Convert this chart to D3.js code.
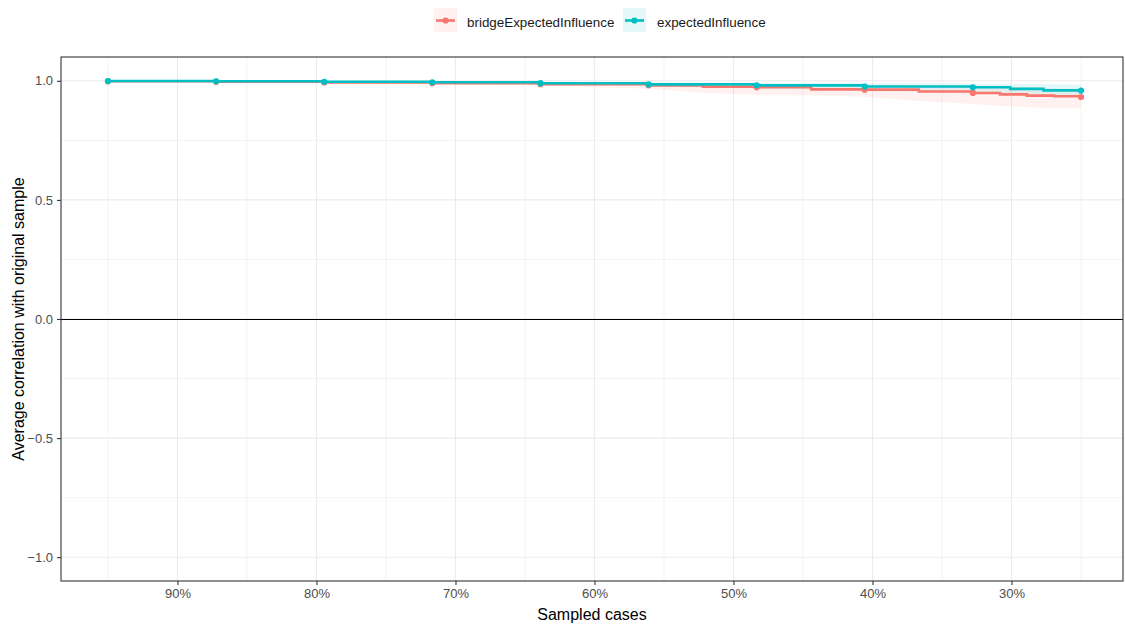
<!DOCTYPE html>
<html><head><meta charset="utf-8">
<script src="https://cdn.jsdelivr.net/npm/d3@7"></script>
<style>body{margin:0;background:#fff;} text{font-family:"Liberation Sans",Arial,sans-serif;}</style>
</head><body><svg id="c" width="1125" height="626"></svg>
<script>
const seriesNames = ["bridgeExpectedInfluence", "expectedInfluence"];
const seriesColors = ["#F8766D", "#00BFC4"];

const pointX = [95, 87.22, 79.44, 71.67, 63.89, 56.11, 48.33, 40.56, 32.78, 25];
const bridgePoints   = [0.998, 0.996, 0.993, 0.990, 0.986, 0.981, 0.973, 0.963, 0.949, 0.932];
const expectedPoints = [0.999, 0.998, 0.996, 0.994, 0.990, 0.985, 0.981, 0.976, 0.973, 0.959];

const bridgeLineX = [95, 87.22, 79.44, 71.67, 63.89, 56.11, 52.2, 48.33, 44.4, 40.56, 36.67, 32.78, 30.83, 28.89, 26.94, 25];
const bridgeLineY = [0.998, 0.996, 0.993, 0.990, 0.986, 0.981, 0.975, 0.973, 0.964, 0.963, 0.955, 0.949, 0.943, 0.938, 0.935, 0.932];
const expectedLineX = [95, 87.22, 79.44, 71.67, 63.89, 56.11, 48.33, 40.56, 32.78, 30.1, 27.7, 25];
const expectedLineY = [0.999, 0.998, 0.996, 0.994, 0.990, 0.985, 0.981, 0.976, 0.973, 0.966, 0.960, 0.959];

const ribbonX = [95, 87.22, 79.44, 71.67, 63.89, 56.11, 52.2, 48.33, 44.4, 40.56, 36.67, 32.78, 30.83, 28.89, 26.94, 25];
const bridgeLower   = [0.996, 0.994, 0.990, 0.986, 0.980, 0.967, 0.950, 0.942, 0.938, 0.933, 0.915, 0.903, 0.894, 0.889, 0.887, 0.886];
const bridgeUpper   = [1.000, 0.999, 0.997, 0.995, 0.992, 0.990, 0.988, 0.986, 0.985, 0.983, 0.980, 0.977, 0.975, 0.972, 0.969, 0.966];
const expectedLower = [0.997, 0.995, 0.992, 0.988, 0.983, 0.977, 0.972, 0.968, 0.964, 0.960, 0.955, 0.950, 0.946, 0.942, 0.938, 0.935];
const expectedUpper = [1.000, 1.000, 0.999, 0.998, 0.996, 0.994, 0.993, 0.992, 0.991, 0.990, 0.990, 0.989, 0.988, 0.987, 0.986, 0.985];

const xTicks = [90, 80, 70, 60, 50, 40, 30];
const xMinor = [95, 85, 75, 65, 55, 45, 35, 25];
const yTicks = [-1, -0.5, 0, 0.5, 1];
const yMinor = [-0.75, -0.25, 0.25, 0.75];
const xTitle = "Sampled cases";
const yTitle = "Average correlation with original sample";

const svg = d3.select("#c");
const P = {l: 61, r: 1123, t: 57, b: 581};
const x = d3.scaleLinear().domain([98.38, 21.98]).range([P.l, P.r]);
const y = d3.scaleLinear().domain([-1.1, 1.1]).range([P.b, P.t]);

const g = svg.append("g");
// grid
g.selectAll(".ymin").data(yMinor).enter().append("line")
  .attr("x1", P.l).attr("x2", P.r).attr("y1", d => y(d)).attr("y2", d => y(d))
  .attr("stroke", "#EBEBEB").attr("stroke-width", 0.6);
g.selectAll(".xmin").data(xMinor).enter().append("line")
  .attr("y1", P.t).attr("y2", P.b).attr("x1", d => x(d)).attr("x2", d => x(d))
  .attr("stroke", "#EBEBEB").attr("stroke-width", 0.6);
g.selectAll(".ymaj").data(yTicks).enter().append("line")
  .attr("x1", P.l).attr("x2", P.r).attr("y1", d => y(d)).attr("y2", d => y(d))
  .attr("stroke", "#EBEBEB").attr("stroke-width", 1.1);
g.selectAll(".xmaj").data(xTicks).enter().append("line")
  .attr("y1", P.t).attr("y2", P.b).attr("x1", d => x(d)).attr("x2", d => x(d))
  .attr("stroke", "#EBEBEB").attr("stroke-width", 1.1);

// zero line
g.append("line").attr("x1", P.l).attr("x2", P.r).attr("y1", Math.round(y(0)) + 0.5).attr("y2", Math.round(y(0)) + 0.5)
  .attr("stroke", "#000").attr("stroke-width", 1);

// ribbons
const area = d3.area().x(d => x(d[0])).y0(d => y(d[1])).y1(d => y(d[2]));
const ribbons = [
  ribbonX.map((v, i) => [v, bridgeLower[i], bridgeUpper[i]]),
  ribbonX.map((v, i) => [v, expectedLower[i], expectedUpper[i]])
];
ribbons.forEach((r, i) => {
  g.append("path").attr("d", area(r)).attr("fill", seriesColors[i]).attr("fill-opacity", 0.1);
});

// lines
const line = d3.line().x(d => x(d[0])).y(d => y(d[1])).curve(d3.curveStepAfter);
const lines = [
  bridgeLineX.map((v, i) => [v, bridgeLineY[i]]),
  expectedLineX.map((v, i) => [v, expectedLineY[i]])
];
lines.forEach((l, i) => {
  g.append("path").attr("d", line(l)).attr("fill", "none")
    .attr("stroke", seriesColors[i]).attr("stroke-width", 2.6);
});

// points
const pts = [bridgePoints, expectedPoints];
pts.forEach((p, i) => {
  g.selectAll(".p" + i).data(p).enter().append("circle")
    .attr("cx", (d, j) => x(pointX[j])).attr("cy", d => y(d)).attr("r", 3.1)
    .attr("fill", seriesColors[i]);
});

// panel border
svg.append("rect").attr("x", P.l).attr("y", P.t).attr("width", P.r - P.l).attr("height", P.b - P.t)
  .attr("fill", "none").attr("stroke", "#333333").attr("stroke-width", 1.1);

// axes
const xAxis = d3.axisBottom(x).tickValues(xTicks).tickFormat(d => d + "%").tickSize(4).tickPadding(4);
const ya = d3.axisLeft(y).tickValues(yTicks).tickFormat(d3.format(".1f")).tickSize(4).tickPadding(4);
const gx = svg.append("g").attr("transform", `translate(0,${P.b})`).call(xAxis);
const gy = svg.append("g").attr("transform", `translate(${P.l},0)`).call(ya);
[gx, gy].forEach(a => {
  a.select(".domain").remove();
  a.selectAll(".tick line").attr("stroke", "#333333").attr("stroke-width", 1.1);
  a.selectAll(".tick text").attr("fill", "#4D4D4D").style("font-size", "13px")
    .style("font-family", '"Liberation Sans",Arial,sans-serif');
});

// titles
svg.append("text").attr("x", (P.l + P.r) / 2).attr("y", 620).attr("text-anchor", "middle")
  .style("font-size", "16px").attr("fill", "#000").text(xTitle);
svg.append("text").attr("transform", `translate(24,${(P.t + P.b) / 2}) rotate(-90)`)
  .attr("text-anchor", "middle").style("font-size", "16px").attr("fill", "#000").text(yTitle);

// legend
const legendKeys = [434, 623];
const legendTextX = [467, 657];
seriesNames.forEach((n, i) => {
  const lg = svg.append("g").attr("transform", `translate(${legendKeys[i]},8)`);
  lg.append("rect").attr("width", 23).attr("height", 24).attr("fill", seriesColors[i]).attr("fill-opacity", 0.1);
  lg.append("line").attr("x1", 2).attr("x2", 21).attr("y1", 12.5).attr("y2", 12.5)
    .attr("stroke", seriesColors[i]).attr("stroke-width", 2.6);
  lg.append("circle").attr("cx", 11.5).attr("cy", 12.5).attr("r", 3.1).attr("fill", seriesColors[i]);
  svg.append("text").attr("x", legendTextX[i]).attr("y", 26.5).style("font-size", "13.4px")
    .attr("fill", "#1A1A1A").text(n);
});
</script></body></html>
